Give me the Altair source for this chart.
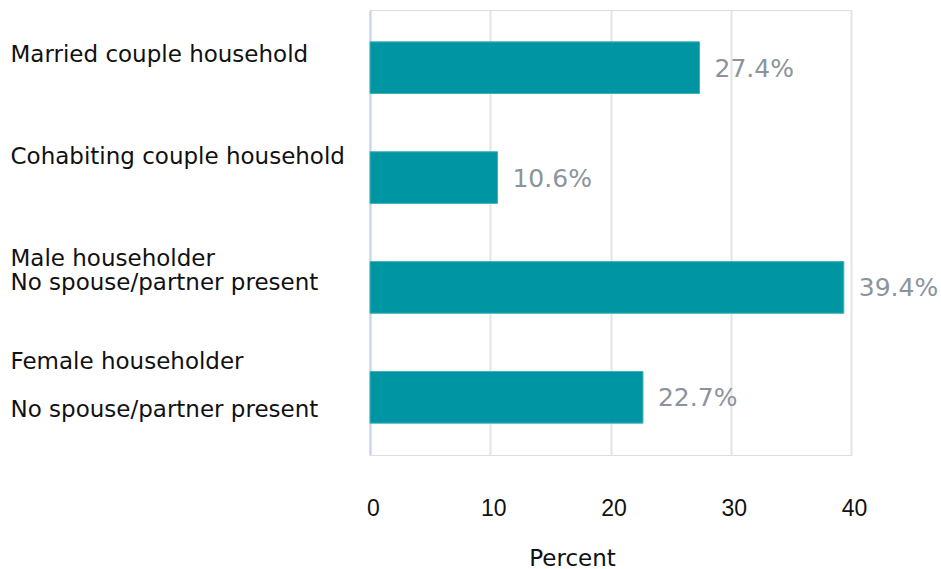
import altair as alt
import pandas as pd

categories = [
    "Married couple household",
    "Cohabiting couple household",
    "Male householder\nNo spouse/partner present",
    "Female householder\n\u2800\nNo spouse/partner present",
]
values = [27.4, 10.6, 39.4, 22.7]
labels = ["27.4%", "10.6%", "39.4%", "22.7%"]
x_ticks = [0, 10, 20, 30, 40]

df = pd.DataFrame({"cat": categories, "val": values, "lab": labels})

FONT = "DejaVu Sans"
TICK_FONT = "Liberation Sans"

label_offset = {
    "condition": [
        {"test": "indexof(datum.value, 'Married') == 0", "value": -13},
        {"test": "indexof(datum.value, 'Cohabiting') == 0", "value": -21},
        {"test": "indexof(datum.value, 'Male') == 0", "value": -28},
    ],
    "value": -35,
}

y_enc = alt.Y(
    "cat:N",
    sort=categories,
    title=None,
    scale=alt.Scale(paddingInner=0.53, paddingOuter=0.29),
    axis=alt.Axis(
        labelAlign="left",
        labelPadding=360,
        ticks=False,
        tickSize=0,
        labelFontSize=23,
        labelFont=FONT,
        labelColor="#111111",
        labelLineHeight=24,
        labelOffset=label_offset,
        labelExpr="split(datum.label, '\\n')",
        domain=True,
        domainColor="#c9d3ea",
        domainWidth=2,
        grid=False,
        labelLimit=400,
    ),
)

x_enc = alt.X(
    "val:Q",
    scale=alt.Scale(domain=[0, 40], nice=False),
    axis=alt.Axis(
        values=x_ticks,
        title="Percent",
        titleFontSize=23,
        titleFont=FONT,
        titleFontWeight="normal",
        titleColor="#111111",
        titleX=202,
        titleY=110,
        titleAlign="center",
        titleBaseline="alphabetic",
        labelFontSize=23,
        labelFont=TICK_FONT,
        labelColor="#111111",
        labelPadding=42,
        labelOffset=3,
        labelFlush=False,
        ticks=False,
        domain=False,
        grid=True,
        gridColor="#e4e4e4",
        gridWidth=2,
    ),
)

base = alt.Chart(df)

bars = base.mark_bar(color="#0095a3", stroke="#3fb1bb", strokeWidth=1).encode(x=x_enc, y=y_enc)

text = base.mark_text(
    align="left", baseline="middle", dx=15, dy=1,
    fontSize=25, font=FONT, color="#8b949c", fontWeight=500,
).encode(x="val:Q", y=alt.Y("cat:N", sort=categories), text="lab:N")

chart = (
    alt.layer(bars, text)
    .properties(
        width=481,
        height=445,
        autosize=alt.AutoSizeParams(type="none"),
        padding={"left": 370, "top": 10, "right": 90, "bottom": 114},
    )
    .configure_view(stroke=None)
    .configure(background="white")
)

chart.save("out.html", embed_options={"renderer": "svg", "actions": False})
